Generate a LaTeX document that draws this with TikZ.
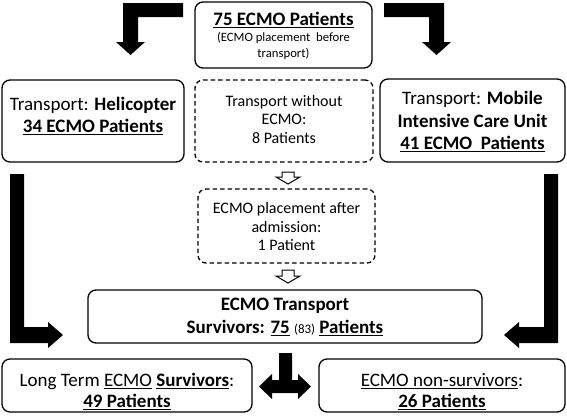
\documentclass[tikz,border=0pt]{standalone}
\usepackage{fontspec}
\setmainfont{Carlito}
\newcommand\myul[1]{\setbox0\hbox{#1}\rlap{\rule[-3.3pt]{\wd0}{1.1pt}}\box0\relax}
\begin{document}
\begin{tikzpicture}[x=1pt,y=-1pt,
  box/.style={draw, line width=1.3pt, rounded corners=8pt, inner sep=0pt},
  dbox/.style={box, dash pattern=on 4.5pt off 3pt},
  big/.style={anchor=base, inner sep=0pt, font=\fontsize{19}{22}\selectfont},
  mid/.style={anchor=base, inner sep=0pt, font=\fontsize{16}{19}\selectfont},
  sml/.style={anchor=base, inner sep=0pt, font=\fontsize{12.7}{15}\selectfont},
  blk/.style={fill=black},
  hol/.style={draw, fill=white, line width=1pt, line join=miter}]
\fill[white] (0,0) rectangle (567,415);

% boxes
\node[box, minimum width=177pt, minimum height=66pt] (top) at (283.5,35) {};
\node[box, minimum width=182pt, minimum height=82pt] (heli) at (93,121) {};
\node[dbox, minimum width=178pt, minimum height=82pt] (notr) at (284,121) {};
\node[box, minimum width=185pt, minimum height=83pt] (micu) at (472.5,120.5) {};
\node[dbox, minimum width=177pt, minimum height=74pt] (after) at (286.5,226) {};
\node[box, minimum width=394pt, minimum height=53pt] (trans) at (285,316.5) {};
\node[box, minimum width=250pt, minimum height=53pt] (lt) at (127,385.5) {};
\node[box, minimum width=246pt, minimum height=53pt] (non) at (442,385.5) {};

% texts
\node[big] (t1) at (283.5,25) {\textbf{\myul{75 ECMO Patients}}};
\node[sml] (t2) at (283.5,41) {(ECMO placement~\ before};
\node[sml] (t3) at (283.5,57) {transport)};

\node[big] (h1) at (93,110) {Transport: \textbf{Helicopter}};
\node[big] (h2) at (93,132) {\textbf{\myul{34 ECMO Patients}}};

\node[mid] (n1) at (284,106) {Transport without};
\node[mid] (n2) at (284,124) {ECMO:};
\node[mid] (n3) at (284,143) {8 Patients};

\node[big] (m1) at (472.5,104) {Transport: \textbf{Mobile}};
\node[big] (m2) at (472.5,127) {\textbf{Intensive Care Unit}};
\node[big] (m3) at (472.5,149) {\textbf{\myul{41 ECMO~\ Patients}}};

\node[mid] (a1) at (286.5,213) {ECMO placement after};
\node[mid] (a2) at (286.5,232) {admission:};
\node[mid] (a3) at (286.5,250) {1 Patient};

\node[big] (s1) at (285,310) {\textbf{ECMO Transport}};
\node[big] (s2) at (285,333) {\textbf{Survivors: \myul{75}} {\fontsize{13}{15}\selectfont (83)} \textbf{\myul{Patients}}};

\node[big] (l1) at (127,386) {Long Term \myul{ECMO} \textbf{\myul{Survivors}}:};
\node[big] (l2) at (127,407) {\textbf{\myul{49 Patients}}};

\node[big] (r1) at (442,386) {\myul{ECMO non-survivors}:};
\node[big] (r2) at (442,407) {\textbf{\myul{26 Patients}}};

% big black arrows
\fill[blk] (183,3) -- (183,17) -- (138,17) -- (138,42) -- (145,42) -- (130.5,55)
  -- (116,42) -- (123,42) -- (123,3) -- cycle;
\fill[blk] (384,3) -- (384,17) -- (429,17) -- (429,42) -- (422,42) -- (436.5,55)
  -- (451,42) -- (444,42) -- (444,3) -- cycle;
\fill[blk] (10,174) -- (24,174) -- (24,327) -- (48,327) -- (48,322) -- (63,335)
  -- (48,348) -- (48,343) -- (10,343) -- cycle;
\fill[blk] (558,174) -- (544,174) -- (544,327) -- (519,327) -- (519,322) -- (504,335)
  -- (519,348) -- (519,343) -- (558,343) -- cycle;
\fill[blk] (279,353) -- (292,353) -- (292,380) -- (298,380) -- (298,374) -- (311,386.5)
  -- (298,399) -- (298,393) -- (272,393) -- (272,399) -- (259,386.5) -- (272,374)
  -- (272,380) -- (279,380) -- cycle;

% hollow arrows
\draw[hol] (282,172) -- (294,172) -- (294,177) -- (300,177) -- (288,184) -- (276,177) -- (282,177) -- cycle;
\draw[hol] (282,270) -- (294,270) -- (294,276) -- (300,276) -- (288,283) -- (276,276) -- (282,276) -- cycle;
\end{tikzpicture}
\end{document}
